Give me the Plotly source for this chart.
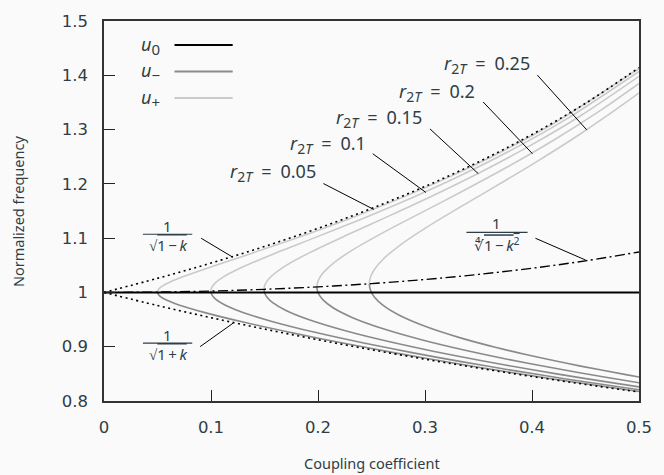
import plotly.graph_objects as go

# ---------------- data ----------------
k_ref = [0.0, 0.05, 0.1, 0.15, 0.2, 0.25, 0.3, 0.35, 0.4, 0.45, 0.5]
bound_upper = [1.0, 1.02598, 1.05409, 1.08465, 1.11803, 1.15470, 1.19523, 1.24035, 1.29099, 1.34840, 1.41421]
bound_lower = [1.0, 0.97590, 0.95346, 0.93251, 0.91287, 0.89443, 0.87706, 0.86066, 0.84515, 0.83046, 0.81650]
quartic_root = [1.0, 1.00063, 1.00252, 1.00571, 1.01026, 1.01627, 1.02386, 1.03321, 1.04455, 1.05820, 1.07457]

u0_k = [0.0, 0.5]
u0_val = [1.0, 1.0]

r_labels = ["0.05", "0.1", "0.15", "0.2", "0.25"]

k_r005 = [0.04998, 0.05023, 0.05219, 0.05830, 0.07070, 0.09433, 0.12999, 0.17720, 0.22561, 0.27459, 0.32388, 0.37336, 0.42296, 0.5]
up_r005 = [1.00063, 1.00314, 1.00823, 1.01600, 1.02665, 1.04328, 1.06676, 1.09847, 1.13319, 1.17142, 1.21379, 1.26113, 1.31448, 1.41244]
dn_r005 = [1.00063, 0.99813, 0.99320, 0.98593, 0.97648, 0.96281, 0.94544, 0.92499, 0.90582, 0.88779, 0.87080, 0.85475, 0.83955, 0.81752]

k_r010 = [0.09988, 0.10000, 0.10100, 0.10428, 0.11169, 0.12797, 0.15613, 0.19717, 0.24161, 0.28788, 0.33522, 0.38324, 0.43171, 0.5]
up_r010 = [1.00251, 1.00504, 1.01015, 1.01797, 1.02869, 1.04542, 1.06905, 1.10096, 1.13592, 1.17444, 1.21716, 1.26491, 1.31876, 1.40709]
dn_r010 = [1.00251, 1.00000, 0.99504, 0.98773, 0.97823, 0.96449, 0.94703, 0.92648, 0.90722, 0.88911, 0.87204, 0.85592, 0.84066, 0.82063]

k_r015 = [0.14958, 0.14966, 0.15033, 0.15256, 0.15771, 0.16963, 0.19176, 0.22644, 0.26603, 0.30866, 0.35323, 0.39909, 0.44584, 0.5]
up_r015 = [1.00567, 1.00823, 1.01339, 1.02129, 1.03211, 1.04901, 1.07288, 1.10516, 1.14053, 1.17954, 1.22284, 1.27128, 1.32599, 1.39802]
dn_r015 = [1.00567, 1.00314, 0.99813, 0.99076, 0.98117, 0.96730, 0.94969, 0.92898, 0.90956, 0.89131, 0.87412, 0.85789, 0.84253, 0.82595]

k_r020 = [0.19900, 0.19906, 0.19956, 0.20125, 0.20518, 0.21448, 0.23238, 0.26173, 0.29665, 0.33541, 0.37683, 0.42012, 0.46476, 0.5]
up_r020 = [1.01015, 1.01274, 1.01797, 1.02598, 1.03695, 1.05409, 1.07833, 1.11111, 1.14708, 1.18678, 1.23092, 1.28037, 1.33631, 1.38501]
dn_r020 = [1.01015, 1.00759, 1.00251, 0.99504, 0.98533, 0.97129, 0.95346, 0.93251, 0.91287, 0.89443, 0.87706, 0.86066, 0.84515, 0.83371]

k_r025 = [0.24804, 0.24809, 0.24849, 0.24985, 0.25303, 0.26062, 0.27554, 0.30071, 0.33155, 0.36664, 0.40488, 0.44545, 0.48777, 0.5]
up_r025 = [1.01600, 1.01863, 1.02396, 1.03211, 1.04328, 1.06074, 1.08545, 1.11891, 1.15566, 1.19630, 1.24154, 1.29234, 1.34993, 1.36767]
dn_r025 = [1.01600, 1.01339, 1.00823, 1.00063, 0.99076, 0.97648, 0.95838, 0.93710, 0.91718, 0.89848, 0.88088, 0.86427, 0.84857, 0.84428]

x_ticks = [0, 0.1, 0.2, 0.3, 0.4, 0.5]
x_ticktext = ["0", "0.1", "0.2", "0.3", "0.4", "0.5"]
y_ticks = [0.8, 0.9, 1.0, 1.1, 1.2, 1.3, 1.4, 1.5]
y_ticktext = ["0.8", "0.9", "1", "1.1", "1.2", "1.3", "1.4", "1.5"]

# ---------------- styling ----------------
BG = "#fafafa"
TXT = "#2f3e46"
FONT = "Noto Sans"
TICKFONT = "DejaVu Sans"
C_MINUS = "#8a8a8a"
C_PLUS = "#cacaca"
LW = 1.6

# plot area in pixels (for placing annotations)
L, R, T, B = 103.5, 646.0, 18.5, 400.7
W, H = 664, 475


def px_x(p):
    return (p - L) / (R - L) * 0.5


def px_y(p):
    return 1.5 - (p - T) / (B - T) * 0.7


fig = go.Figure()

branch_k = [k_r005, k_r010, k_r015, k_r020, k_r025]
branch_up = [up_r005, up_r010, up_r015, up_r020, up_r025]
branch_dn = [dn_r005, dn_r010, dn_r015, dn_r020, dn_r025]

for kk, uu in zip(branch_k, branch_up):
    fig.add_trace(go.Scatter(x=kk, y=uu, mode="lines",
                             line=dict(color=C_PLUS, width=LW, shape="spline", smoothing=0.8),
                             hoverinfo="skip", showlegend=False))
for kk, dd in zip(branch_k, branch_dn):
    fig.add_trace(go.Scatter(x=kk, y=dd, mode="lines",
                             line=dict(color=C_MINUS, width=LW, shape="spline", smoothing=0.8),
                             hoverinfo="skip", showlegend=False))

fig.add_trace(go.Scatter(x=u0_k, y=u0_val, mode="lines",
                         line=dict(color="black", width=2), showlegend=False))

fig.add_trace(go.Scatter(x=k_ref, y=bound_upper, mode="lines",
                         line=dict(color="black", width=1.6, dash="2px,3.5px", shape="spline"),
                         showlegend=False))
fig.add_trace(go.Scatter(x=k_ref, y=bound_lower, mode="lines",
                         line=dict(color="black", width=1.6, dash="2px,3.5px", shape="spline"),
                         showlegend=False))
fig.add_trace(go.Scatter(x=k_ref, y=quartic_root, mode="lines",
                         line=dict(color="black", width=1.4, dash="10px,3.5px,2px,3.5px", shape="spline"),
                         showlegend=False))

shapes = []
annotations = []


def seg(x0, y0, x1, y1, color="black", width=1):
    shapes.append(dict(type="line", xref="x", yref="y",
                       x0=px_x(x0), y0=px_y(y0), x1=px_x(x1), y1=px_y(y1),
                       line=dict(color=color, width=width)))


def text(px, py, s, size=17, xanchor="center", yanchor="middle"):
    annotations.append(dict(xref="x", yref="y", x=px_x(px), y=px_y(py), text=s,
                            showarrow=False, xanchor=xanchor, yanchor=yanchor,
                            font=dict(family=FONT, size=size, color=TXT)))


SP = "\u2002"  # math-like spacing around relations
TH = "\u2009"  # thin space around binary operators

# r_2T labels with leader lines
r_text_pos = [(320, 171), (371, 143), (428, 117), (482, 90), (537, 62)]
r_leaders = [((326, 182), (377, 208)), ((376, 152), (430, 191)), ((434, 127), (483, 172)),
             ((488, 100), (538, 152)), ((543, 73), (593, 128))]
for lab, (tx, ty), ((a, b), (c, d)) in zip(r_labels, r_text_pos, r_leaders):
    text(tx, ty, "<i>r</i><sub><span style='font-size:14px'>2<i>T</i></span></sub>"
         + SP + "=" + SP + lab, size=18, xanchor="right")
    seg(a, b, c, d)

# 1/sqrt(1-k)
text(168, 225, "1", size=15)
seg(143, 233, 193, 233, color=TXT, width=1.2)
text(168, 244, "√<span style='text-decoration:overline'>1" + TH + "−" + TH + "<i>k</i></span>", size=15)
seg(202, 237, 234, 256)

# 1/sqrt(1+k)
text(168, 334, "1", size=15)
seg(143, 342.5, 193, 342.5, color=TXT, width=1.2)
text(168, 353, "√<span style='text-decoration:overline'>1" + TH + "+" + TH + "<i>k</i></span>", size=15)
seg(201, 346, 235, 322)

# 1/(1-k^2)^(1/4)
text(502, 222, "1", size=15)
seg(471, 231, 533, 231, color=TXT, width=1.2)
text(502, 243, "∜<span style='text-decoration:overline'>1" + TH + "−" + TH + "<i>k</i><sup>2</sup></span>", size=15)
seg(541, 237, 592, 259)

# manual legend (text left of line sample)
leg = [("<i>u</i><sub><span style='font-size:15px'>0</span></sub>", "black", 42.7, 2.0),
       ("<i>u</i><sub><span style='font-size:15px'>−</span></sub>", C_MINUS, 69.3, 2.0),
       ("<i>u</i><sub><span style='font-size:15px'>+</span></sub>", C_PLUS, 96.0, 2.0)]
for lab, col, py, w in leg:
    shapes.append(dict(type="line", xref="paper", yref="paper",
                       x0=(175 - L) / (R - L), x1=(234 - L) / (R - L),
                       y0=(B - py) / (B - T), y1=(B - py) / (B - T),
                       line=dict(color=col, width=w)))
    annotations.append(dict(xref="paper", yref="paper", x=(162 - L) / (R - L), y=(B - py) / (B - T),
                            text=lab, showarrow=False, xanchor="right", yanchor="middle",
                            font=dict(family=FONT, size=18, color=TXT)))

# axis titles
annotations.append(dict(xref="paper", yref="paper", x=(375 - L) / (R - L), y=(B - 463) / (B - T),
                        text="Coupling coefficient", showarrow=False, xanchor="center", yanchor="middle",
                        font=dict(family=FONT, size=14.5, color=TXT)))
annotations.append(dict(xref="paper", yref="paper", x=(17 - L) / (R - L), y=(B - 210) / (B - T),
                        text="Normalized frequency", showarrow=False, xanchor="center", yanchor="middle",
                        textangle=-90, font=dict(family=FONT, size=14.5, color=TXT)))

axis_common = dict(showgrid=False, zeroline=False, ticks="inside", ticklen=11, tickwidth=1.3,
                   tickcolor="#222", showline=True, linecolor="#333", linewidth=1.6, mirror=True,
                   tickfont=dict(family=TICKFONT, size=16.5, color=TXT))

fig.update_layout(
    width=W, height=H,
    margin=dict(l=L, r=W - R, t=T, b=H - B, pad=0),
    paper_bgcolor=BG, plot_bgcolor=BG,
    showlegend=False,
    shapes=shapes, annotations=annotations,
    xaxis=dict(range=[0, 0.5], tickvals=x_ticks, ticktext=x_ticktext, ticklabelstandoff=10, **axis_common),
    yaxis=dict(range=[0.8, 1.5], tickvals=y_ticks, ticktext=y_ticktext, ticklabelstandoff=11, **axis_common),
)

fig.write_html("out.html")
